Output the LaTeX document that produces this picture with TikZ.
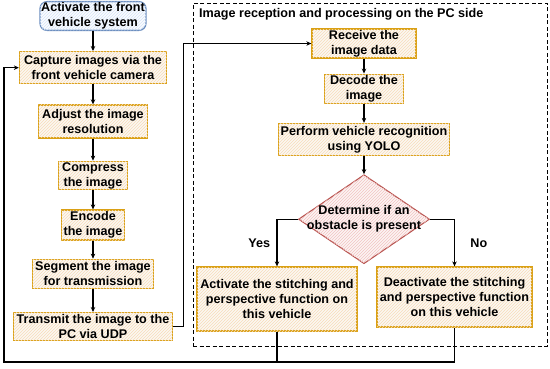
\documentclass[tikz,border=0pt]{standalone}
\usepackage{fontspec}
\setmainfont{Liberation Sans}
\usepackage{tikz}
\usetikzlibrary{arrows.meta,positioning,shapes.geometric,patterns}
\definecolor{boxedge}{RGB}{218,160,20}
\definecolor{boxfill}{RGB}{252,248,242}
\definecolor{boxhatch}{RGB}{247,221,186}
\definecolor{decedge}{RGB}{184,84,80}
\definecolor{decfill}{RGB}{252,244,244}
\definecolor{dechatch}{RGB}{242,196,194}
\definecolor{startedge}{RGB}{108,142,191}
\definecolor{startfill}{RGB}{250,252,255}
\definecolor{starthatch}{RGB}{214,228,248}

\begin{document}
\begin{tikzpicture}[
  x=1pt, y=-1pt,
  every node/.style={font=\fontsize{12.6}{15}\selectfont\bfseries},
  proc/.style={rectangle, draw=boxedge, line width=1.3pt, fill=boxfill,
    postaction={pattern=north east lines, pattern color=boxhatch},
    align=center, inner sep=1pt},
  startbox/.style={rectangle, rounded corners=7pt, draw=startedge, line width=1.3pt, fill=startfill,
    postaction={pattern=north east lines, pattern color=starthatch},
    align=center, inner sep=1pt},
  decision/.style={diamond, draw=decedge, line width=1.1pt, fill=decfill,
    postaction={pattern=north east lines, pattern color=dechatch}, inner sep=0pt},
  flow/.style={-{Stealth[length=5pt, width=4.5pt]}, line width=1.2pt},
  link/.style={line width=1.2pt},
]
  \useasboundingbox (0,0) rectangle (550,368);

  % PC side group
  \node[draw, dash pattern=on 4pt off 2.5pt, line width=0.9pt, minimum width=354pt, minimum height=343pt] (pcside) at (370,174.5) {};
  \node[anchor=west, inner sep=0pt] (pctitle) at (199,14) {Image reception and processing on the PC side};

  % Front vehicle
  \node[startbox, minimum width=106pt, minimum height=28pt] (start) at (93,16) {Activate the front\\vehicle system};
  \node[proc, minimum width=147pt, minimum height=32pt, below=20pt of start] (capture) {Capture images via the\\front vehicle camera};
  \node[proc, minimum width=109pt, minimum height=33pt, below=20pt of capture] (adjust) {Adjust the image\\resolution};
  \node[proc, minimum width=69pt, minimum height=27pt, below=22pt of adjust] (compress) {Compress\\the image};
  \node[proc, minimum width=63pt, minimum height=30pt, below=19pt of compress] (encode) {Encode\\the image};
  \node[proc, minimum width=121pt, minimum height=29pt, below=18pt of encode] (segment) {Segment the image\\for transmission};
  \node[proc, minimum width=159pt, minimum height=28pt, below=23pt of segment] (transmit) {Transmit the image to the\\PC via UDP};

  % PC side
  \node[proc, minimum width=104pt, minimum height=27pt] (receive) at (364,43.5) {Receive the\\image data};
  \node[proc, minimum width=79pt, minimum height=29pt, below=15pt of receive] (decode) {Decode the\\image};
  \node[proc, minimum width=171pt, minimum height=32pt, below=19pt of decode] (perform) {Perform vehicle recognition\\using YOLO};
  \node[decision, minimum width=131pt, minimum height=89pt, below=18pt of perform] (obstacle) {};
  \node[align=center, inner sep=0pt] (obstacletext) at (obstacle) {Determine if an\\obstacle is present};
  \node[proc, minimum width=160pt, minimum height=64pt] (activate) at (277,299) {Activate the stitching and\\perspective function on\\this vehicle};
  \node[proc, minimum width=155pt, minimum height=60pt] (deactivate) at (454.5,297) {Deactivate the stitching\\and perspective function\\on this vehicle};

  \coordinate (loopcorner) at (4,362);

  % Connectors
  \draw[flow] (start) -- (capture);
  \draw[flow] (capture) -- (adjust);
  \draw[flow] (adjust) -- (compress);
  \draw[flow] (compress) -- (encode);
  \draw[flow] (encode) -- (segment);
  \draw[flow] (segment) -- (transmit);
  \draw[flow] (transmit.east) -- ++(10,0) |- (receive.west);
  \draw[flow] (receive) -- (decode);
  \draw[flow] (decode) -- (perform);
  \draw[flow] (perform) -- (obstacle);
  \draw[flow] (obstacle.west) -| (activate.north) node[pos=0.75, left=3pt] {Yes};
  \draw[flow] (obstacle.east) -| (deactivate.north) node[pos=0.75, right=12pt] {No};

  % Return to capture
  \draw[link] (activate.south) -- (activate.south |- loopcorner);
  \draw[flow, line width=1.6pt] (deactivate.south) |- (loopcorner) |- (capture.west);
\end{tikzpicture}
\end{document}
